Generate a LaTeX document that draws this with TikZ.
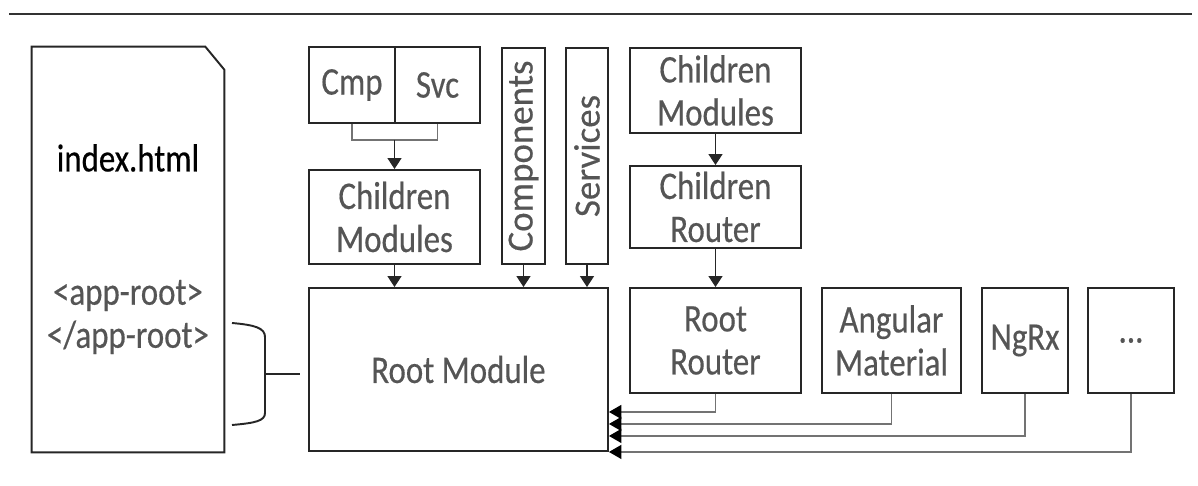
\documentclass[tikz,border=0pt]{standalone}
\usepackage{fontspec}
\setmainfont{Carlito}[FakeStretch=0.84, FakeBold=0.4]
\newfontfamily\uprightfont{Carlito}[FakeBold=0.4]
\usetikzlibrary{arrows.meta,positioning}
\definecolor{labelgray}{HTML}{555555}

\begin{document}
\begin{tikzpicture}[
      x=0.02cm, y=-0.02cm,
      font=\fontsize{22.3}{24.5}\selectfont,
      box/.style={draw=black!85, line width=1.1pt, inner sep=0pt, align=center, text=labelgray, minimum height=2.1cm},
      vbox/.style={box, minimum width=0.86cm, minimum height=4.32cm, font=\uprightfont\fontsize{21}{24.5}\selectfont},
      arrow/.style={-{Triangle[length=2.2mm, width=2.8mm]}, line width=0.8pt, black!85},
      link/.style={-{Triangle[length=2.5mm, width=2.8mm, color=black]}, line width=0.9pt, black!55}
    ]
    \useasboundingbox (0,0) rectangle (1198,486);
    % rule at the top
    \draw[line width=1.2pt, black!80] (9,14) -- (1192,14);

    % index.html page
    \node[minimum width=3.84cm, minimum height=8.1cm] (index) at (128,249.5) {};
    \draw[line width=1.1pt, black!85] (index.north west) -- ([xshift=-3.8mm]index.north east)
      -- ([yshift=-4.6mm]index.north east) -- (index.south east) -- (index.south west) -- cycle;
    \node (indextitle) at (128,158) {index.html};
    \node[text=labelgray, align=center] (approot) at (128,317) {<app-root>\\</app-root>};

    % brace
    \draw[line width=1.1pt, black!85] (232,323) .. controls (255,325) and (265,328) .. (265,337)
      -- (265,413) .. controls (265,421) and (255,423) .. (232,425);
    \coordinate (brace) at (265,374);

    % left column
    \node[box, minimum width=1.72cm, minimum height=1.52cm] (cmp) at (352,85) {Cmp};
    \node[box, minimum width=1.70cm, minimum height=1.52cm] (svc) at (437.5,85) {Svc};
    \node[box, minimum width=3.42cm, minimum height=1.88cm] (chmod) at (394.5,217) {Children\\Modules};
    \node[vbox] (comps) at (523.5,156) {\rotatebox{90}{Components}};
    \node[vbox, minimum width=0.84cm] (svcs) at (587,156) {\rotatebox{90}{Services}};
    \node[box, minimum width=5.98cm, minimum height=3.26cm] (root) at (458.5,369.5) {Root Module};

    % right column
    \node[box, minimum width=3.42cm, minimum height=1.7cm] (chmodr) at (715.5,90.5) {Children\\Modules};
    \node[box, minimum width=3.42cm, minimum height=1.64cm] (chrouter) at (715.5,207) {Children\\Router};
    \node[box, minimum width=3.42cm] (rrouter) at (715.5,340.5) {Root\\Router};
    \node[box, minimum width=2.78cm] (angular) at (891.5,340.5) {Angular\\Material};
    \node[box, minimum width=1.72cm] (ngrx) at (1025,340.5) {NgRx};
    \node[box, minimum width=1.72cm] (dots) at (1131,340.5) {...};

    % connectors
    \coordinate (cs) at (394.5,140);
    \draw[line width=0.9pt, black!55] (cmp.south) |- (cs) -| (svc.south);
    \draw[arrow] (cs) -- (chmod);
    \draw[arrow] (chmod.south) -- (chmod.south |- root.north);
    \draw[arrow] (comps.south) -- (comps.south |- root.north);
    \draw[arrow] (svcs.south) -- (svcs.south |- root.north);
    \draw[arrow] (chmodr) -- (chrouter);
    \draw[arrow] (chrouter) -- (rrouter);
    \foreach \n/\dy in {rrouter/8mm, angular/5.6mm, ngrx/3.2mm, dots/0mm}
      \draw[link] (\n.south) |- ([yshift=\dy]root.south east);
    \draw[line width=1.1pt, black!85] (brace) -- ([xshift=-1.6mm]root.west |- brace);
  \end{tikzpicture}
\end{document}
